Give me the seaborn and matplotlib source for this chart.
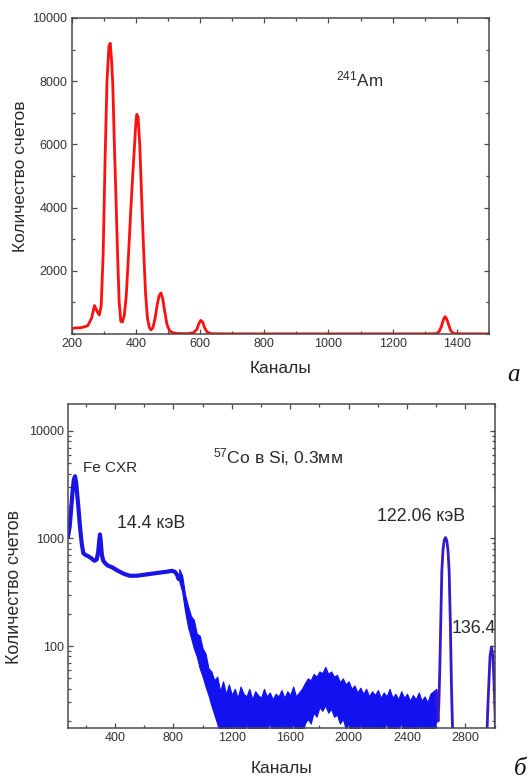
import matplotlib
matplotlib.use("Agg")
import matplotlib.pyplot as plt
import matplotlib.ticker as mticker
import seaborn as sns

# 241Am spectrum (channels, counts)
am_ch = [200, 210, 230, 250, 262, 271, 280, 286, 292, 298,
         304, 310, 316, 320, 324, 328, 333, 338, 343, 348,
         353, 358, 364, 370, 377, 384, 390, 396, 400, 403,
         407, 412, 418, 424, 430, 436, 442, 447, 453, 460,
         466, 472, 478, 484, 490, 497, 505, 515, 530, 560,
         580, 590, 596, 602, 608, 614, 622, 635, 700, 900,
         1100, 1300, 1335, 1345, 1352, 1358, 1363, 1368, 1374, 1381,
         1390, 1420, 1500]
am_counts = [170, 190, 200, 260, 500, 900, 700, 600, 900, 2500,
             5500, 8000, 9100, 9200, 8700, 7900, 6000, 4300, 2500, 1000,
             400, 380, 600, 1200, 2500, 3900, 5000, 6000, 6700, 6950,
             6850, 6000, 4300, 2700, 1300, 500, 200, 130, 200, 500,
             900, 1200, 1300, 1100, 700, 300, 100, 40, 15, 10,
             40, 150, 320, 430, 380, 200, 60, 10, 5, 5,
             5, 5, 10, 80, 250, 450, 550, 480, 300, 100,
             15, 5, 5]

# 57Co in Si: low-noise part of the spectrum
co_ch = [78, 90, 100, 110, 118, 126, 134, 142, 150, 160,
         172, 183, 200, 220, 240, 260, 275, 285, 292, 297,
         302, 310, 320, 332, 350, 380, 420, 460, 500, 550,
         600, 650, 700, 750, 790, 810, 825, 835]
co_counts = [1030, 1300, 1900, 2800, 3500, 3790, 3300, 2500, 1900, 1300,
             900, 730, 700, 680, 650, 620, 640, 750, 950, 1090,
             950, 700, 620, 590, 560, 540, 500, 470, 450, 450,
             460, 470, 480, 490, 500, 490, 460, 420]

# noisy part: upper / lower edges of the noise band, every 20 channels from 840 to 2600
env_ch = list(range(840, 2601, 20))
env_upper = [520, 450, 300, 235, 190, 175, 130, 125, 95, 85,
             62, 58, 48, 52, 38, 47, 36, 44, 35, 40,
             33, 42, 36, 34, 40, 32, 38, 35, 33, 40,
             34, 37, 32, 36, 34, 39, 33, 38, 35, 42,
             34, 37, 40, 45, 50, 48, 55, 52, 58, 56,
             64, 55, 58, 52, 54, 46, 50, 44, 47, 40,
             43, 37, 41, 36, 40, 34, 38, 35, 39, 33,
             37, 34, 40, 33, 36, 32, 38, 33, 36, 31,
             35, 32, 37, 31, 34, 30, 36, 38, 40]
env_lower = [400, 320, 210, 150, 120, 95, 80, 62, 52, 42,
             35, 28, 23, 19, 15, 18, 14, 17, 13, 19,
             15, 18, 14, 19, 16, 13, 18, 15, 19, 14,
             17, 19, 14, 18, 15, 19, 13, 18, 16, 19,
             15, 18, 14, 19, 21, 19, 24, 22, 27, 25,
             28, 24, 26, 22, 23, 19, 21, 17, 19, 15,
             18, 14, 19, 16, 18, 13, 19, 15, 18, 14,
             17, 19, 15, 18, 13, 17, 19, 14, 18, 15,
             17, 13, 19, 15, 18, 14, 17, 15, 20]

# gamma peaks 122.06 and 136.4 keV
p122_ch = [2600, 2612, 2618, 2624, 2630, 2638, 2646, 2654, 2663, 2672,
           2680, 2688, 2696, 2704, 2710, 2716]
p122_counts = [38, 20, 30, 60, 150, 500, 780, 960, 1020, 960,
               780, 500, 170, 42, 20, 12]
p136_ch = [2945, 2952, 2960, 2968, 2978, 2988, 2996, 3004, 3010]
p136_counts = [12, 25, 45, 80, 98, 80, 45, 20, 12]

sns.set_theme(style="ticks")
plt.rcParams["font.family"] = ["Liberation Sans", "DejaVu Sans"]
plt.rcParams["mathtext.fontset"] = "custom"
plt.rcParams["mathtext.rm"] = "Liberation Sans"
plt.rcParams["mathtext.it"] = "Liberation Sans"

edge = "#4a4a4a"
txt = "#2a2a2a"
fig = plt.figure(figsize=(5.29, 7.82), dpi=100)
ax1 = fig.add_axes([0.1355, 0.5729, 0.7889, 0.4041])
ax2 = fig.add_axes([0.1285, 0.0691, 0.8072, 0.4143])


def style_axes(ax):
    for sp in ax.spines.values():
        sp.set_color(edge)
        sp.set_linewidth(1.1)
    ax.tick_params(which="both", direction="in", top=True, right=True,
                   color=edge, width=0.9, labelsize=9, labelcolor="#333333", pad=3)
    ax.tick_params(which="major", length=3.5)
    ax.tick_params(which="minor", length=2)


# upper panel: 241Am
sns.lineplot(x=am_ch, y=am_counts, ax=ax1, color="#ff1010", linewidth=2.0, sort=False)
ax1.set_xlim(200, 1500)
ax1.set_ylim(0, 10000)
ax1.set_xticks([200, 400, 600, 800, 1000, 1200, 1400])
ax1.xaxis.set_minor_locator(mticker.MultipleLocator(100))
ax1.set_yticks([2000, 4000, 6000, 8000, 10000])
ax1.yaxis.set_minor_locator(mticker.MultipleLocator(1000))
style_axes(ax1)
ax1.set_xlabel("Каналы", fontsize=12.5, color=txt, labelpad=8)
ax1.set_ylabel("Количество счетов", fontsize=12.5, color=txt)
ax1.yaxis.set_label_coords(-0.105, 0.5)
ax1.text(1097, 8063, "$^{241}$Am", fontsize=12.3, ha="center", va="center", color=txt)

# lower panel: 57Co in Si
ax2.set_yscale("log")
ax2.fill_between(env_ch, env_lower, env_upper, color="#1212f0", linewidth=0.8, edgecolor="#1212f0")
sns.lineplot(x=co_ch, y=co_counts, ax=ax2, color="#1a14e6", linewidth=3.0, sort=False)
sns.lineplot(x=p122_ch, y=p122_counts, ax=ax2, color="#3a18c8", linewidth=2.0, sort=False)
sns.lineplot(x=p136_ch, y=p136_counts, ax=ax2, color="#3a18c8", linewidth=2.0, sort=False)
ax2.set_xlim(78, 3002)
ax2.set_ylim(17.3, 17800)
ax2.set_xticks([400, 800, 1200, 1600, 2000, 2400, 2800])
ax2.xaxis.set_minor_locator(mticker.MultipleLocator(200))
ax2.set_yticks([100, 1000, 10000])
ax2.set_yticklabels(["100", "1000", "10000"])
ax2.yaxis.set_minor_locator(mticker.LogLocator(base=10, subs=range(2, 10)))
ax2.yaxis.set_minor_formatter(mticker.NullFormatter())
style_axes(ax2)
ax2.set_xlabel("Каналы", fontsize=12.5, color=txt, labelpad=12)
ax2.set_ylabel("Количество счетов", fontsize=12.8, color=txt)
ax2.yaxis.set_label_coords(-0.105, 0.435)

ax2.text(181, 4500, "Fe CXR", fontsize=11, ha="left", va="center", color=txt)
ax2.text(1071, 5730, "$^{57}$Co в Si, 0.3мм", fontsize=12.6, ha="left", va="center", color=txt)
ax2.text(414, 1377, "14.4 кэВ", fontsize=12.8, ha="left", va="center", color=txt)
ax2.text(2193, 1585, "122.06 кэВ", fontsize=12.8, ha="left", va="center", color=txt)
ax2.text(2707, 146, "136.4", fontsize=12.8, ha="left", va="center", color=txt)

# panel letters
fig.text(0.970, 0.521, "a", fontsize=18, family="Liberation Serif", style="italic",
         ha="center", va="center", color="#111111")
fig.text(0.983, 0.016, "б", fontsize=18, family="Liberation Serif", style="italic",
         ha="center", va="center", color="#111111")

fig.savefig("out.png", dpi=100)
